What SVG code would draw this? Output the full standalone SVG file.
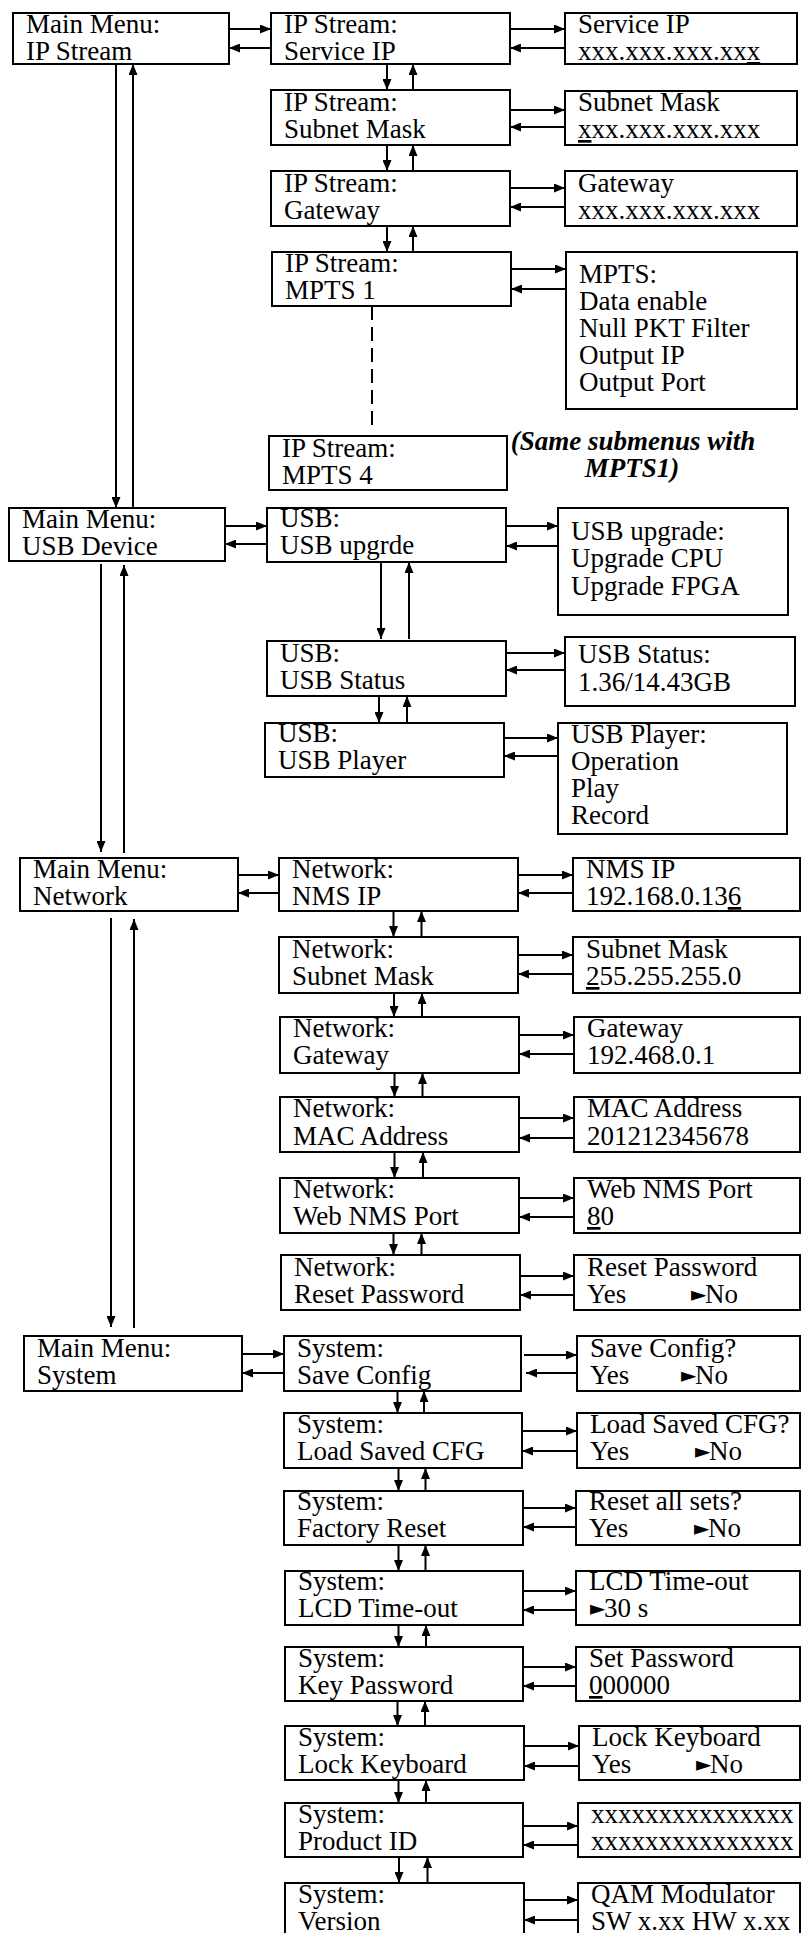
<svg xmlns="http://www.w3.org/2000/svg" width="801" height="1933" viewBox="0 0 801 1933">
<style>
.box{fill:#fff;stroke:#000;stroke-width:2}
.t{font-family:"Liberation Serif","Times New Roman",serif;font-size:27px;fill:#000}
.n{font-family:"Liberation Serif","Times New Roman",serif;font-size:27px;font-style:italic;font-weight:bold;fill:#000;text-anchor:middle}
.tri{font-family:"DejaVu Sans",sans-serif;font-size:20px}
.u{text-decoration:underline}
.c line{stroke:#000;stroke-width:2;marker-end:url(#ah)}
.c line.d{marker-end:none;stroke-dasharray:14 7}
</style>
<defs>
<marker id="ah" markerUnits="userSpaceOnUse" markerWidth="11" markerHeight="9" refX="11" refY="4.5" orient="auto">
<path d="M0,0 L11,4.5 L0,9 z" fill="#000"/>
</marker>
</defs>
<rect width="801" height="1933" fill="#fff"/>

<g id="mm-ipstream"><rect class="box" x="13" y="13" width="216" height="51"/><text class="t" x="26" y="33">Main Menu:</text><text class="t" x="26" y="60">IP Stream</text></g>
<g id="ip-service"><rect class="box" x="271" y="13" width="239" height="51"/><text class="t" x="284" y="33">IP Stream:</text><text class="t" x="284" y="60">Service IP</text></g>
<g id="v-service"><rect class="box" x="565" y="13" width="232" height="51"/><text class="t" x="578" y="33">Service IP</text><text class="t" x="578" y="60">xxx.xxx.xxx.xx<tspan class="u">x</tspan></text></g>
<g id="ip-subnet"><rect class="box" x="271" y="90" width="239" height="55"/><text class="t" x="284" y="111">IP Stream:</text><text class="t" x="284" y="138">Subnet Mask</text></g>
<g id="v-subnet"><rect class="box" x="565" y="91" width="232" height="54"/><text class="t" x="578" y="111">Subnet Mask</text><text class="t" x="578" y="138"><tspan class="u">x</tspan>xx.xxx.xxx.xxx</text></g>
<g id="ip-gateway"><rect class="box" x="271" y="171" width="239" height="55"/><text class="t" x="284" y="192">IP Stream:</text><text class="t" x="284" y="219">Gateway</text></g>
<g id="v-gateway"><rect class="box" x="565" y="171" width="232" height="55"/><text class="t" x="578" y="192">Gateway</text><text class="t" x="578" y="219">xxx.xxx.xxx.xxx</text></g>
<g id="ip-mpts1"><rect class="box" x="272" y="252" width="239" height="54"/><text class="t" x="285" y="272">IP Stream:</text><text class="t" x="285" y="299">MPTS 1</text></g>
<g id="v-mpts"><rect class="box" x="566" y="252" width="231" height="157"/><text class="t" x="579" y="283">MPTS:</text><text class="t" x="579" y="310">Data enable</text><text class="t" x="579" y="337">Null PKT Filter</text><text class="t" x="579" y="364">Output IP</text><text class="t" x="579" y="391">Output Port</text></g>
<g id="ip-mpts4"><rect class="box" x="269" y="436" width="238" height="54"/><text class="t" x="282" y="457">IP Stream:</text><text class="t" x="282" y="484">MPTS 4</text></g>
<g id="note"><text class="n" x="633" y="450">(Same submenus with</text><text class="n" x="632" y="477">MPTS1)</text></g>

<g id="mm-usb"><rect class="box" x="9" y="508" width="216" height="53"/><text class="t" x="22" y="528">Main Menu:</text><text class="t" x="22" y="555">USB Device</text></g>
<g id="usb-upgrade"><rect class="box" x="267" y="508" width="239" height="54"/><text class="t" x="280" y="527">USB:</text><text class="t" x="280" y="554">USB upgrde</text></g>
<g id="v-upgrade"><rect class="box" x="558" y="508" width="230" height="107"/><text class="t" x="571" y="540">USB upgrade:</text><text class="t" x="571" y="567">Upgrade CPU</text><text class="t" x="571" y="595">Upgrade FPGA</text></g>
<g id="usb-status"><rect class="box" x="267" y="641" width="239" height="55"/><text class="t" x="280" y="662">USB:</text><text class="t" x="280" y="689">USB Status</text></g>
<g id="v-status"><rect class="box" x="565" y="637" width="230" height="69"/><text class="t" x="578" y="663">USB Status:</text><text class="t" x="578" y="691">1.36/14.43GB</text></g>
<g id="usb-player"><rect class="box" x="265" y="723" width="239" height="54"/><text class="t" x="278" y="742">USB:</text><text class="t" x="278" y="769">USB Player</text></g>
<g id="v-player"><rect class="box" x="558" y="723" width="229" height="111"/><text class="t" x="571" y="743">USB Player:</text><text class="t" x="571" y="770">Operation</text><text class="t" x="571" y="797">Play</text><text class="t" x="571" y="824">Record</text></g>

<g id="mm-network"><rect class="box" x="20" y="858" width="218" height="53"/><text class="t" x="33" y="878">Main Menu:</text><text class="t" x="33" y="905">Network</text></g>
<g id="net-nmsip"><rect class="box" x="279" y="858" width="239" height="53"/><text class="t" x="292" y="878">Network:</text><text class="t" x="292" y="905">NMS IP</text></g>
<g id="v-nmsip"><rect class="box" x="573" y="858" width="227" height="53"/><text class="t" x="586" y="878">NMS IP</text><text class="t" x="586" y="905">192.168.0.13<tspan class="u">6</tspan></text></g>
<g id="net-subnet"><rect class="box" x="279" y="937" width="239" height="56"/><text class="t" x="292" y="958">Network:</text><text class="t" x="292" y="985">Subnet Mask</text></g>
<g id="v-netsubnet"><rect class="box" x="573" y="937" width="227" height="56"/><text class="t" x="586" y="958">Subnet Mask</text><text class="t" x="586" y="985"><tspan class="u">2</tspan>55.255.255.0</text></g>
<g id="net-gateway"><rect class="box" x="280" y="1017" width="239" height="56"/><text class="t" x="293" y="1037">Network:</text><text class="t" x="293" y="1064">Gateway</text></g>
<g id="v-netgateway"><rect class="box" x="574" y="1017" width="226" height="56"/><text class="t" x="587" y="1037">Gateway</text><text class="t" x="587" y="1064">192.468.0.1</text></g>
<g id="net-mac"><rect class="box" x="280" y="1097" width="239" height="55"/><text class="t" x="293" y="1117">Network:</text><text class="t" x="293" y="1145">MAC Address</text></g>
<g id="v-mac"><rect class="box" x="574" y="1097" width="226" height="55"/><text class="t" x="587" y="1117">MAC Address</text><text class="t" x="587" y="1145">201212345678</text></g>
<g id="net-webport"><rect class="box" x="280" y="1178" width="239" height="55"/><text class="t" x="293" y="1198">Network:</text><text class="t" x="293" y="1225">Web NMS Port</text></g>
<g id="v-webport"><rect class="box" x="574" y="1178" width="226" height="55"/><text class="t" x="587" y="1198">Web NMS Port</text><text class="t" x="587" y="1225"><tspan class="u">8</tspan>0</text></g>
<g id="net-resetpw"><rect class="box" x="281" y="1255" width="239" height="55"/><text class="t" x="294" y="1276">Network:</text><text class="t" x="294" y="1303">Reset Password</text></g>
<g id="v-resetpw"><rect class="box" x="574" y="1255" width="226" height="55"/><text class="t" x="587" y="1276">Reset Password</text><text class="t" x="587" y="1303">Yes<tspan class="tri" x="691" dy="-2">►</tspan><tspan x="705" dy="2">No</tspan></text></g>

<g id="mm-system"><rect class="box" x="24" y="1336" width="218" height="55"/><text class="t" x="37" y="1357">Main Menu:</text><text class="t" x="37" y="1384">System</text></g>
<g id="sys-save"><rect class="box" x="284" y="1336" width="237" height="55"/><text class="t" x="297" y="1357">System:</text><text class="t" x="297" y="1384">Save Config</text></g>
<g id="v-save"><rect class="box" x="577" y="1336" width="223" height="55"/><text class="t" x="590" y="1357">Save Config?</text><text class="t" x="590" y="1384">Yes<tspan class="tri" x="681" dy="-2">►</tspan><tspan x="695" dy="2">No</tspan></text></g>
<g id="sys-load"><rect class="box" x="284" y="1413" width="238" height="55"/><text class="t" x="297" y="1433">System:</text><text class="t" x="297" y="1460">Load Saved CFG</text></g>
<g id="v-load"><rect class="box" x="577" y="1413" width="223" height="55"/><text class="t" x="590" y="1433">Load Saved CFG?</text><text class="t" x="590" y="1460">Yes<tspan class="tri" x="695" dy="-2">►</tspan><tspan x="709" dy="2">No</tspan></text></g>
<g id="sys-factory"><rect class="box" x="284" y="1491" width="239" height="54"/><text class="t" x="297" y="1510">System:</text><text class="t" x="297" y="1537">Factory Reset</text></g>
<g id="v-factory"><rect class="box" x="576" y="1491" width="224" height="54"/><text class="t" x="589" y="1510">Reset all sets?</text><text class="t" x="589" y="1537">Yes<tspan class="tri" x="694" dy="-2">►</tspan><tspan x="708" dy="2">No</tspan></text></g>
<g id="sys-lcd"><rect class="box" x="285" y="1571" width="238" height="54"/><text class="t" x="298" y="1590">System:</text><text class="t" x="298" y="1617">LCD Time-out</text></g>
<g id="v-lcd"><rect class="box" x="576" y="1571" width="224" height="54"/><text class="t" x="589" y="1590">LCD Time-out</text><text class="t" x="589" y="1617"><tspan class="tri" x="590" dy="-2">►</tspan><tspan x="604" dy="2">30 s</tspan></text></g>
<g id="sys-keypw"><rect class="box" x="285" y="1647" width="238" height="54"/><text class="t" x="298" y="1667">System:</text><text class="t" x="298" y="1694">Key Password</text></g>
<g id="v-keypw"><rect class="box" x="576" y="1647" width="224" height="54"/><text class="t" x="589" y="1667">Set Password</text><text class="t" x="589" y="1694"><tspan class="u">0</tspan>00000</text></g>
<g id="sys-lock"><rect class="box" x="285" y="1726" width="239" height="54"/><text class="t" x="298" y="1746">System:</text><text class="t" x="298" y="1773">Lock Keyboard</text></g>
<g id="v-lock"><rect class="box" x="579" y="1726" width="221" height="54"/><text class="t" x="592" y="1746">Lock Keyboard</text><text class="t" x="592" y="1773">Yes<tspan class="tri" x="696" dy="-2">►</tspan><tspan x="710" dy="2">No</tspan></text></g>
<g id="sys-product"><rect class="box" x="285" y="1803" width="238" height="54"/><text class="t" x="298" y="1823">System:</text><text class="t" x="298" y="1850">Product ID</text></g>
<g id="v-product"><rect class="box" x="578" y="1803" width="222" height="54"/><text class="t" x="591" y="1823">xxxxxxxxxxxxxxx</text><text class="t" x="591" y="1850">xxxxxxxxxxxxxxx</text></g>
<g id="sys-version"><rect class="box" x="285" y="1883" width="239" height="55"/><text class="t" x="298" y="1903">System:</text><text class="t" x="298" y="1930">Version</text></g>
<g id="v-version"><rect class="box" x="578" y="1883" width="222" height="55"/><text class="t" x="591" y="1903">QAM Modulator</text><text class="t" x="591" y="1930">SW x.xx HW x.xx</text></g>

<g id="connectors" class="c">
<line x1="229" y1="29" x2="271" y2="29"/><line x1="271" y1="48" x2="229" y2="48"/>
<line x1="510" y1="29" x2="565" y2="29"/><line x1="565" y1="48" x2="510" y2="48"/>
<line x1="387" y1="64" x2="387" y2="90"/><line x1="413" y1="90" x2="413" y2="64"/>
<line x1="510" y1="110" x2="565" y2="110"/><line x1="565" y1="127" x2="510" y2="127"/>
<line x1="387" y1="145" x2="387" y2="171"/><line x1="413" y1="171" x2="413" y2="145"/>
<line x1="510" y1="188" x2="565" y2="188"/><line x1="565" y1="207" x2="510" y2="207"/>
<line x1="387" y1="226" x2="387" y2="252"/><line x1="413" y1="252" x2="413" y2="226"/>
<line x1="511" y1="269" x2="566" y2="269"/><line x1="566" y1="289" x2="511" y2="289"/>
<line class="d" x1="372" y1="306" x2="372" y2="428"/>
<line x1="116" y1="64" x2="116" y2="508"/><line x1="133" y1="508" x2="133" y2="64"/>

<line x1="225" y1="526" x2="267" y2="526"/><line x1="267" y1="544" x2="225" y2="544"/>
<line x1="506" y1="526" x2="558" y2="526"/><line x1="558" y1="546" x2="506" y2="546"/>
<line x1="381" y1="562" x2="381" y2="639"/><line x1="409" y1="639" x2="409" y2="562"/>
<line x1="506" y1="653" x2="565" y2="653"/><line x1="565" y1="670" x2="506" y2="670"/>
<line x1="379" y1="696" x2="379" y2="723"/><line x1="407" y1="723" x2="407" y2="696"/>
<line x1="504" y1="738" x2="558" y2="738"/><line x1="558" y1="756" x2="504" y2="756"/>
<line x1="101" y1="564" x2="101" y2="852"/><line x1="124" y1="853" x2="124" y2="565"/>

<line x1="238" y1="875" x2="279" y2="875"/><line x1="279" y1="893" x2="238" y2="893"/>
<line x1="518" y1="875" x2="573" y2="875"/><line x1="573" y1="893" x2="518" y2="893"/>
<line x1="393.5" y1="911" x2="393.5" y2="937"/><line x1="421.5" y1="937" x2="421.5" y2="911"/>
<line x1="518" y1="955" x2="573" y2="955"/><line x1="573" y1="974" x2="518" y2="974"/>
<line x1="394" y1="993" x2="394" y2="1017"/><line x1="422" y1="1017" x2="422" y2="993"/>
<line x1="519" y1="1035" x2="574" y2="1035"/><line x1="574" y1="1054" x2="519" y2="1054"/>
<line x1="394.5" y1="1073" x2="394.5" y2="1097"/><line x1="422.5" y1="1097" x2="422.5" y2="1073"/>
<line x1="519" y1="1118" x2="574" y2="1118"/><line x1="574" y1="1138" x2="519" y2="1138"/>
<line x1="394.5" y1="1152" x2="394.5" y2="1178"/><line x1="423" y1="1178" x2="423" y2="1152"/>
<line x1="519" y1="1198" x2="574" y2="1198"/><line x1="574" y1="1217" x2="519" y2="1217"/>
<line x1="393.5" y1="1233" x2="393.5" y2="1255"/><line x1="421.5" y1="1255" x2="421.5" y2="1233"/>
<line x1="520" y1="1276" x2="574" y2="1276"/><line x1="574" y1="1295" x2="520" y2="1295"/>
<line x1="111" y1="918" x2="111" y2="1327"/><line x1="134" y1="1328" x2="134" y2="919"/>

<line x1="242" y1="1354" x2="284" y2="1354"/><line x1="284" y1="1373" x2="242" y2="1373"/>
<line x1="524" y1="1355" x2="577" y2="1355"/><line x1="577" y1="1373" x2="526" y2="1373"/>
<line x1="397.5" y1="1391" x2="397.5" y2="1413"/><line x1="424" y1="1413" x2="424" y2="1391"/>
<line x1="522" y1="1431" x2="577" y2="1431"/><line x1="577" y1="1451" x2="522" y2="1451"/>
<line x1="398.5" y1="1468" x2="398.5" y2="1491"/><line x1="425.5" y1="1491" x2="425.5" y2="1468"/>
<line x1="523" y1="1508" x2="576" y2="1508"/><line x1="576" y1="1527" x2="523" y2="1527"/>
<line x1="398.5" y1="1545" x2="398.5" y2="1571"/><line x1="425.5" y1="1571" x2="425.5" y2="1545"/>
<line x1="523" y1="1591" x2="576" y2="1591"/><line x1="576" y1="1610" x2="523" y2="1610"/>
<line x1="398.5" y1="1625" x2="398.5" y2="1647"/><line x1="426" y1="1647" x2="426" y2="1625"/>
<line x1="523" y1="1667" x2="576" y2="1667"/><line x1="576" y1="1686" x2="523" y2="1686"/>
<line x1="397.5" y1="1701" x2="397.5" y2="1726"/><line x1="425" y1="1726" x2="425" y2="1701"/>
<line x1="524" y1="1746" x2="579" y2="1746"/><line x1="579" y1="1766" x2="524" y2="1766"/>
<line x1="398.5" y1="1780" x2="398.5" y2="1803"/><line x1="426" y1="1803" x2="426" y2="1780"/>
<line x1="523" y1="1826" x2="578" y2="1826"/><line x1="578" y1="1845" x2="523" y2="1845"/>
<line x1="399" y1="1857" x2="399" y2="1883"/><line x1="427.5" y1="1883" x2="427.5" y2="1857"/>
<line x1="524" y1="1900" x2="578" y2="1900"/><line x1="578" y1="1920" x2="524" y2="1920"/>
</g>
</svg>
